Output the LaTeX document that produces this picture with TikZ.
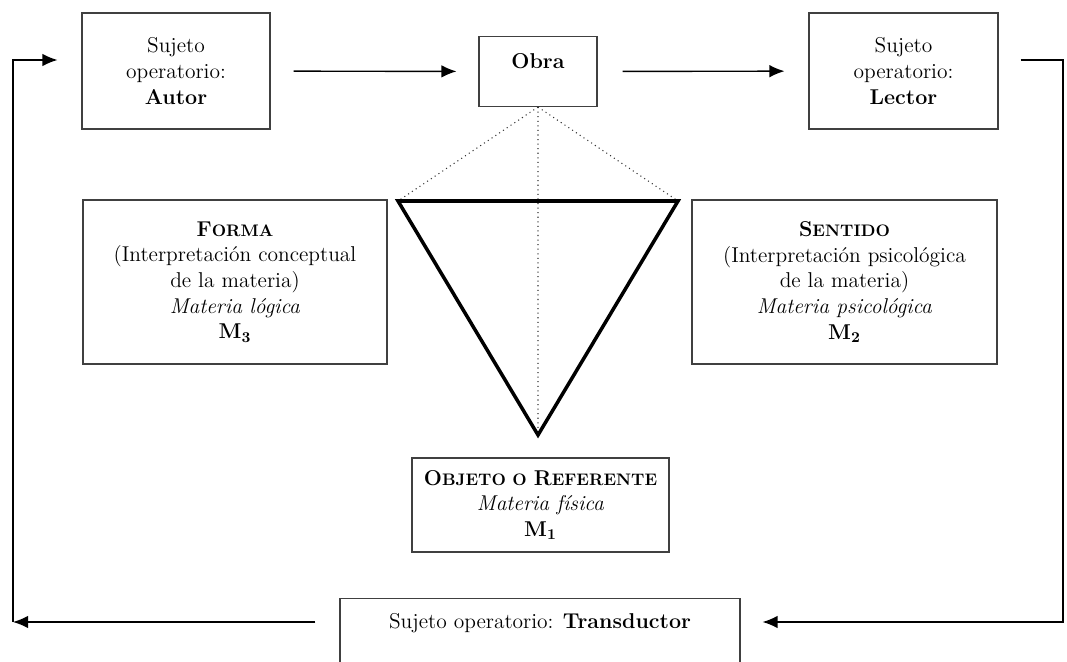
\documentclass[tikz,border=0pt]{standalone}
\usetikzlibrary{arrows.meta}
\newcommand{\bsc}[2]{{\bfseries #1{\fontsize{9.5}{10}\selectfont #2}}}
\begin{document}
\begin{tikzpicture}[
	caja/.style={draw=black!75, line width=0.6pt, align=center, inner sep=0pt, font=\fontsize{12.2}{14.6}\selectfont},
	flecha/.style={line width=0.8pt, -{Latex[length=3mm,width=2.5mm]}},
	punteada/.style={dotted, line width=0.6pt, black!80}]
	\useasboundingbox (0,0) rectangle (21.34,13.22);
	\node[caja, minimum width=3.76cm, minimum height=2.32cm] (autor) at (3.52,11.80) {Sujeto\\operatorio:\\\textbf{Autor}};
	\node[caja, anchor=north, minimum width=2.36cm, text height=0.64cm, text depth=0.76cm] (obra) at (10.76,12.50) {\textbf{Obra}};
	\node[caja, minimum width=3.78cm, minimum height=2.32cm] (lector) at (18.07,11.80) {Sujeto\\operatorio:\\\textbf{Lector}};
	\node[caja, minimum width=6.08cm, minimum height=3.28cm] (forma) at (4.70,7.58) {\bsc{F}{ORMA}\\(Interpretación conceptual\\de la materia)\\\textit{Materia lógica}\\\textbf{M\textsubscript{3}}};
	\node[caja, minimum width=6.10cm, minimum height=3.28cm] (sentido) at (16.89,7.58) {\bsc{S}{ENTIDO}\\(Interpretación psicológica\\de la materia)\\\textit{Materia psicológica}\\\textbf{M\textsubscript{2}}};
	\node[caja, minimum width=5.14cm, minimum height=1.88cm] (objeto) at (10.81,3.12) {\bsc{O}{BJETO O} \bsc{R}{EFERENTE}\\\textit{Materia física}\\\textbf{M\textsubscript{1}}};
	\node[caja, anchor=north, minimum width=8cm, text height=0.60cm, text depth=1.0cm] (trans) at (10.80,1.26) {Sujeto operatorio: \textbf{Transductor}};
	\coordinate (tl) at (7.96,9.20);
	\coordinate (tr) at (13.56,9.20);
	\coordinate (tb) at (10.76,4.52);
	\coordinate (lt) at (0.26,12.02);
	\coordinate (lb) at (0.26,0.78);
	\coordinate (rt) at (21.26,12.02);
	\coordinate (rb) at (21.26,0.78);
	\draw[punteada] (obra.south) -- (tl) (obra.south) -- (tr) (obra.south) -- (tb);
	\draw[line width=2pt] (tl) -- (tr) -- (tb) -- cycle;
	\draw[flecha, shorten <=0.46cm, shorten >=0.44cm] (autor) -- (obra);
	\draw[flecha, shorten <=0.5cm, shorten >=0.48cm] (obra) -- (lector);
	\draw[flecha, shorten <=0.44cm, shorten >=0.44cm] (lector.east |- rt) -- (rt) -- (rb) -- (rb -| trans.east);
	\draw[flecha, shorten <=0.48cm] (lb -| trans.west) -- (lb);
	\draw[flecha, shorten >=0.48cm] (lb) -- (lt) -- (lt -| autor.west);
\end{tikzpicture}
\end{document}
